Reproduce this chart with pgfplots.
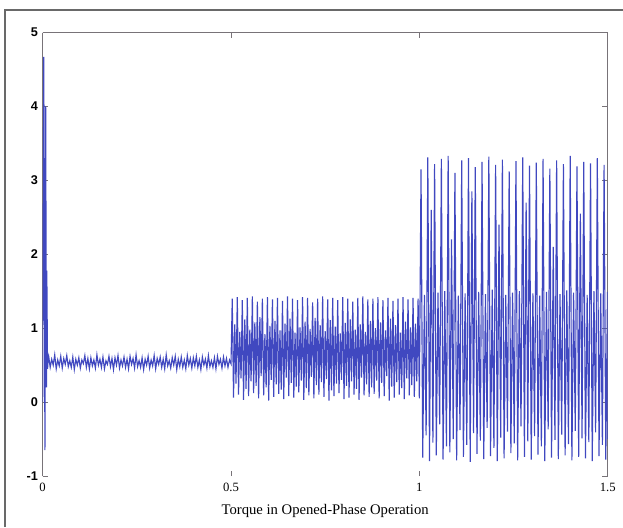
\documentclass[border=0pt]{standalone}
\usepackage{fontspec}
\setmainfont{Liberation Serif}
\setsansfont{Liberation Sans}
\usepackage{pgfplots}
\pgfplotsset{compat=1.18}
\definecolor{sig}{RGB}{64,72,192}
\definecolor{axgray}{RGB}{120,115,120}
\definecolor{framegray}{RGB}{105,105,105}
\begin{document}
\begin{tikzpicture}
\useasboundingbox (-32pt,-38.25pt) rectangle (435.25pt,357pt);
\draw[framegray, line width=1pt] (-28.3pt,-38.25pt) -- (-28.3pt,349.5pt) -- (435.25pt,349.5pt);
\begin{axis}[
  at={(0,0)}, anchor=south west,
  scale only axis, width=423.75pt, height=332.6pt,
  xmin=0, xmax=1.5, ymin=-1, ymax=5,
  xtick={0,0.5,1,1.5}, xticklabels={0,0.5,1,1.5},
  ytick={-1,0,1,2,3,4,5}, yticklabels={-1,0,1,2,3,4,5},
  tick align=inside, major tick length=4pt,
  separate axis lines,
  x axis line style={draw=none},
  y axis line style={draw=axgray, line width=0.9pt},
  tick style={axgray, line width=0.7pt},
  xticklabel style={font=\fontsize{9.5}{10}\selectfont, yshift=-2pt},
  yticklabel style={font=\fontsize{9.5}{10}\selectfont\sffamily\bfseries},
  xlabel={Torque in Opened-Phase Operation},
  xlabel style={font=\fontsize{11}{12}\selectfont, at={(axis description cs:0.5,0)}, anchor=center, yshift=-26pt},
  clip=true,
]
\addplot[sig, line width=0.85pt] table[row sep=\\] {
x y\\
0 0\\ 0.003 4.67\\ 0.006 -0.65\\ 0.008 4.0\\ 0.010 0.2\\ 0.011 1.78\\ 0.013 0.45\\ 0.015 0.6\\
0.016 0.62\\ 0.020 0.47\\ 0.024 0.58\\ 0.028 0.50\\ 0.032 0.64\\ 0.036 0.45\\ 0.040 0.57\\ 0.044 0.49\\
0.048 0.62\\ 0.052 0.46\\ 0.056 0.59\\ 0.060 0.51\\ 0.064 0.63\\ 0.068 0.48\\ 0.072 0.56\\ 0.076 0.47\\
0.080 0.61\\ 0.084 0.44\\ 0.088 0.58\\ 0.092 0.50\\ 0.096 0.60\\ 0.100 0.46\\ 0.104 0.57\\ 0.108 0.52\\
0.112 0.63\\ 0.116 0.47\\ 0.120 0.59\\ 0.124 0.45\\ 0.128 0.60\\ 0.132 0.49\\ 0.136 0.57\\ 0.140 0.46\\
0.144 0.64\\ 0.148 0.50\\ 0.152 0.58\\ 0.156 0.47\\ 0.160 0.61\\ 0.164 0.45\\ 0.168 0.56\\ 0.172 0.51\\
0.176 0.62\\ 0.180 0.48\\ 0.184 0.59\\ 0.188 0.44\\ 0.192 0.60\\ 0.196 0.50\\ 0.200 0.63\\ 0.204 0.46\\
0.208 0.57\\ 0.212 0.49\\ 0.216 0.61\\ 0.220 0.47\\ 0.224 0.58\\ 0.228 0.45\\ 0.232 0.62\\ 0.236 0.51\\
0.240 0.59\\ 0.244 0.46\\ 0.248 0.64\\ 0.252 0.48\\ 0.256 0.56\\ 0.260 0.47\\ 0.264 0.60\\ 0.268 0.44\\
0.272 0.58\\ 0.276 0.50\\ 0.280 0.62\\ 0.284 0.46\\ 0.288 0.57\\ 0.292 0.49\\ 0.296 0.63\\ 0.300 0.45\\
0.304 0.59\\ 0.308 0.51\\ 0.312 0.61\\ 0.316 0.47\\ 0.320 0.58\\ 0.324 0.45\\ 0.328 0.64\\ 0.332 0.49\\
0.336 0.56\\ 0.340 0.46\\ 0.344 0.60\\ 0.348 0.50\\ 0.352 0.62\\ 0.356 0.44\\ 0.360 0.58\\ 0.364 0.48\\
0.368 0.61\\ 0.372 0.47\\ 0.376 0.57\\ 0.380 0.45\\ 0.384 0.63\\ 0.388 0.50\\ 0.392 0.59\\ 0.396 0.46\\
0.400 0.60\\ 0.404 0.49\\ 0.408 0.62\\ 0.412 0.47\\ 0.416 0.57\\ 0.420 0.44\\ 0.424 0.61\\ 0.428 0.50\\
0.432 0.58\\ 0.436 0.46\\ 0.440 0.63\\ 0.444 0.48\\ 0.448 0.56\\ 0.452 0.47\\ 0.456 0.60\\ 0.460 0.45\\
0.464 0.62\\ 0.468 0.51\\ 0.472 0.58\\ 0.476 0.46\\ 0.480 0.61\\ 0.484 0.49\\ 0.488 0.59\\ 0.492 0.47\\
0.496 0.57\\ 0.500 0.52\\
0.5033 1.40\\ 0.5067 0.06\\ 0.5100 1.05\\ 0.5133 0.25\\
0.5167 1.42\\ 0.5200 0.10\\ 0.5233 0.95\\ 0.5267 0.32\\
0.5300 1.38\\ 0.5333 0.03\\ 0.5367 1.12\\ 0.5400 0.18\\
0.5433 1.41\\ 0.5467 0.08\\ 0.5500 0.98\\ 0.5533 0.28\\
0.5567 1.43\\ 0.5600 0.12\\ 0.5633 1.08\\ 0.5667 0.22\\
0.5700 1.36\\ 0.5733 0.05\\ 0.5767 1.15\\ 0.5800 0.35\\
0.5833 1.40\\ 0.5867 0.09\\ 0.5900 0.92\\ 0.5933 0.20\\
0.5967 1.42\\ 0.6000 0.02\\ 0.6033 1.03\\ 0.6067 0.30\\
0.6100 1.39\\ 0.6133 0.07\\ 0.6167 1.10\\ 0.6200 0.24\\
0.6233 1.41\\ 0.6267 0.11\\ 0.6300 0.97\\ 0.6333 0.17\\
0.6367 1.37\\ 0.6400 0.04\\ 0.6433 1.06\\ 0.6467 0.33\\
0.6500 1.43\\ 0.6533 0.08\\ 0.6567 1.13\\ 0.6600 0.26\\
0.6633 1.40\\ 0.6667 0.06\\ 0.6700 0.94\\ 0.6733 0.21\\
0.6767 1.38\\ 0.6800 0.13\\ 0.6833 1.01\\ 0.6867 0.29\\
0.6900 1.42\\ 0.6933 0.03\\ 0.6967 1.09\\ 0.7000 0.19\\
0.7033 1.41\\ 0.7067 0.09\\ 0.7100 0.99\\ 0.7133 0.34\\
0.7167 1.35\\ 0.7200 0.05\\ 0.7233 1.14\\ 0.7267 0.23\\
0.7300 1.40\\ 0.7333 0.10\\ 0.7367 1.04\\ 0.7400 0.27\\
0.7433 1.43\\ 0.7467 0.07\\ 0.7500 0.96\\ 0.7533 0.31\\
0.7567 1.39\\ 0.7600 0.02\\ 0.7633 1.11\\ 0.7667 0.16\\
0.7700 1.41\\ 0.7733 0.08\\ 0.7767 1.02\\ 0.7800 0.25\\
0.7833 1.38\\ 0.7867 0.12\\ 0.7900 0.93\\ 0.7933 0.30\\
0.7967 1.42\\ 0.8000 0.04\\ 0.8033 1.07\\ 0.8067 0.22\\
0.8100 1.40\\ 0.8133 0.06\\ 0.8167 1.12\\ 0.8200 0.28\\
0.8233 1.36\\ 0.8267 0.10\\ 0.8300 0.98\\ 0.8333 0.18\\
0.8367 1.41\\ 0.8400 0.03\\ 0.8433 1.05\\ 0.8467 0.33\\
0.8500 1.43\\ 0.8533 0.09\\ 0.8567 0.95\\ 0.8600 0.24\\
0.8633 1.39\\ 0.8667 0.07\\ 0.8700 1.10\\ 0.8733 0.20\\
0.8767 1.40\\ 0.8800 0.11\\ 0.8833 1.00\\ 0.8867 0.29\\
0.8900 1.42\\ 0.8933 0.05\\ 0.8967 1.08\\ 0.9000 0.26\\
0.9033 1.38\\ 0.9067 0.08\\ 0.9100 0.97\\ 0.9133 0.35\\
0.9167 1.41\\ 0.9200 0.02\\ 0.9233 1.13\\ 0.9267 0.21\\
0.9300 1.37\\ 0.9333 0.06\\ 0.9367 1.04\\ 0.9400 0.27\\
0.9433 1.40\\ 0.9467 0.10\\ 0.9500 0.94\\ 0.9533 0.19\\
0.9567 1.42\\ 0.9600 0.04\\ 0.9633 1.09\\ 0.9667 0.32\\
0.9700 1.39\\ 0.9733 0.09\\ 0.9767 1.01\\ 0.9800 0.23\\
0.9833 1.41\\ 0.9867 0.07\\ 0.9900 1.06\\ 0.9933 0.28\\
0.9967 1.40\\ 1.0000 0.05\\
1.0045 3.15\\ 1.0090 -0.75\\ 1.0135 1.45\\ 1.0180 -0.45\\
1.0225 3.31\\ 1.0270 -0.80\\ 1.0315 2.60\\ 1.0360 -0.55\\
1.0405 3.22\\ 1.0450 -0.72\\ 1.0495 1.48\\ 1.0540 -0.30\\
1.0585 3.29\\ 1.0630 -0.78\\ 1.0675 1.50\\ 1.0720 -0.60\\
1.0765 3.33\\ 1.0810 -0.68\\ 1.0855 2.20\\ 1.0900 -0.50\\
1.0945 3.10\\ 1.0990 -0.79\\ 1.1035 1.44\\ 1.1080 -0.38\\
1.1125 3.27\\ 1.1170 -0.74\\ 1.1215 1.47\\ 1.1260 -0.58\\
1.1305 3.30\\ 1.1350 -0.81\\ 1.1395 2.85\\ 1.1440 -0.42\\
1.1485 3.18\\ 1.1530 -0.70\\ 1.1575 1.49\\ 1.1620 -0.52\\
1.1665 3.25\\ 1.1710 -0.77\\ 1.1755 1.46\\ 1.1800 -0.35\\
1.1845 3.32\\ 1.1890 -0.73\\ 1.1935 1.52\\ 1.1980 -0.62\\
1.2025 3.21\\ 1.2070 -0.80\\ 1.2115 2.40\\ 1.2160 -0.48\\
1.2205 3.28\\ 1.2250 -0.76\\ 1.2295 1.45\\ 1.2340 -0.40\\
1.2385 3.12\\ 1.2430 -0.69\\ 1.2475 1.48\\ 1.2520 -0.56\\
1.2565 3.26\\ 1.2610 -0.79\\ 1.2655 1.50\\ 1.2700 -0.33\\
1.2745 3.31\\ 1.2790 -0.74\\ 1.2835 2.70\\ 1.2880 -0.53\\
1.2925 3.20\\ 1.2970 -0.78\\ 1.3015 1.47\\ 1.3060 -0.46\\
1.3105 3.24\\ 1.3150 -0.71\\ 1.3195 1.44\\ 1.3240 -0.60\\
1.3285 3.29\\ 1.3330 -0.80\\ 1.3375 1.49\\ 1.3420 -0.37\\
1.3465 3.16\\ 1.3510 -0.75\\ 1.3555 2.10\\ 1.3600 -0.51\\
1.3645 3.27\\ 1.3690 -0.77\\ 1.3735 1.46\\ 1.3780 -0.44\\
1.3825 3.22\\ 1.3870 -0.72\\ 1.3915 1.51\\ 1.3960 -0.57\\
1.4005 3.33\\ 1.4050 -0.79\\ 1.4095 1.48\\ 1.4140 -0.39\\
1.4185 3.19\\ 1.4230 -0.74\\ 1.4275 2.55\\ 1.4320 -0.49\\
1.4365 3.25\\ 1.4410 -0.76\\ 1.4455 1.45\\ 1.4500 -0.54\\
1.4545 3.23\\ 1.4590 -0.80\\ 1.4635 1.50\\ 1.4680 -0.41\\
1.4725 3.30\\ 1.4770 -0.73\\ 1.4815 1.47\\ 1.4860 -0.58\\
1.4905 3.21\\ 1.4950 -0.78\\ 1.4995 1.49\\ 1.5000 -0.50\\
};
\end{axis}
\draw[axgray, line width=0.9pt] (0,332.6pt) -- (423.75pt,332.6pt);
\end{tikzpicture}
\end{document}
